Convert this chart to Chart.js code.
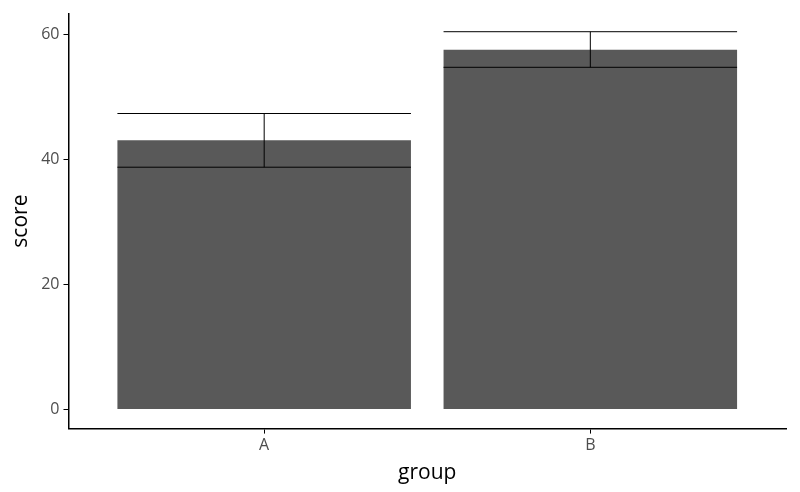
<!DOCTYPE html>
<html>
<head>
<meta charset="utf-8">
<script src="https://cdn.jsdelivr.net/npm/chart.js@4"></script>
<style>
  html, body { margin: 0; padding: 0; background: #fff; }
  #wrap { width: 800px; height: 492px; }
</style>
</head>
<body>
<div id="wrap"><canvas id="chart"></canvas></div>
<script>
const groups = ['A', 'B'];
const scores = [43.1, 57.6];
const errLow = [38.8, 54.8];
const errHigh = [47.4, 60.5];
const yTicks = [0, 20, 40, 60];

// error bars drawn through the chart scales
const errorBars = {
    id: 'errorBars',
    afterDatasetsDraw(chart) {
        const { ctx, scales: { x, y } } = chart;
        const half = (x.getPixelForValue(1.45) - x.getPixelForValue(1.0));
        ctx.save();
        ctx.strokeStyle = '#000';
        ctx.lineWidth = 1;
        groups.forEach((g, i) => {
            const cx = x.getPixelForValue(i + 1);
            const lo = y.getPixelForValue(errLow[i]);
            const hi = y.getPixelForValue(errHigh[i]);
            ctx.beginPath();
            ctx.moveTo(cx, lo); ctx.lineTo(cx, hi);
            ctx.moveTo(cx - half, lo); ctx.lineTo(cx + half, lo);
            ctx.moveTo(cx - half, hi); ctx.lineTo(cx + half, hi);
            ctx.stroke();
        });
        ctx.restore();
    }
};

new Chart(document.getElementById('chart'), {
    type: 'bar',
    data: {
        datasets: [{
            data: groups.map((g, i) => ({ x: i + 1, y: scores[i] })),
            backgroundColor: '#595959',
            barPercentage: 0.9,
            categoryPercentage: 1.0
        }]
    },
    plugins: [errorBars],
    options: {
        responsive: true,
        maintainAspectRatio: false,
        animation: false,
        layout: { padding: { top: 12, right: 14, left: 4, bottom: 2 } },
        plugins: { legend: { display: false }, tooltip: { enabled: false } },
        scales: {
            x: {
                type: 'linear',
                offset: false,
                min: 0.4,
                max: 2.6,
                afterBuildTicks: (axis) => { axis.ticks = groups.map((g, i) => ({ value: i + 1 })); },
                ticks: {
                    callback: (v) => groups[v - 1] || '',
                    color: '#4d4d4d',
                    font: { family: 'Open Sans', size: 16 },
                    padding: 2
                },
                grid: { offset: false, drawOnChartArea: false, tickLength: 5, color: '#000' },
                border: { color: '#000', width: 1.5 },
                title: { display: true, text: 'group', color: '#000', font: { family: 'Open Sans', size: 21 } }
            },
            y: {
                min: -3.06,
                max: 63.4,
                afterBuildTicks: (axis) => { axis.ticks = yTicks.map(v => ({ value: v })); },
                ticks: {
                    color: '#4d4d4d',
                    font: { family: 'Open Sans', size: 16 },
                    padding: 4
                },
                grid: { drawOnChartArea: false, tickLength: 5, color: '#000' },
                border: { color: '#000', width: 1.5 },
                title: { display: true, text: 'score', color: '#000', font: { family: 'Open Sans', size: 21 } }
            }
        }
    }
});
</script>
</body>
</html>
